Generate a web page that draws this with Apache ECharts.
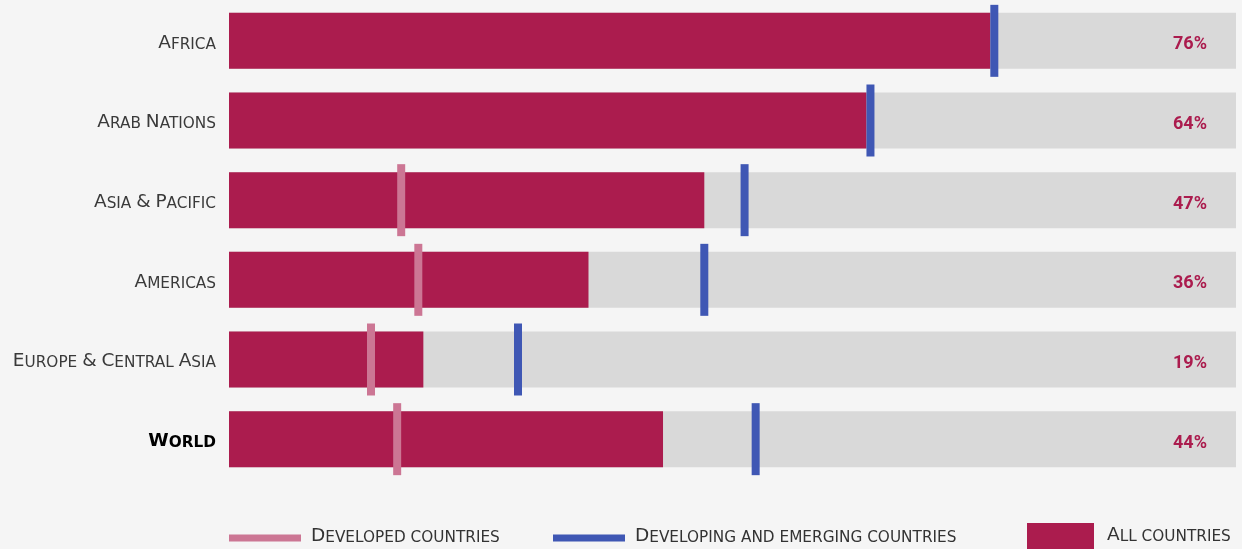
<!DOCTYPE html>
<html>
<head>
<meta charset="utf-8">
<script src="https://cdn.jsdelivr.net/npm/echarts@6/dist/echarts.min.js"></script>
<style>
html,body{margin:0;padding:0;background:#f5f5f5;}
#chart{width:1242px;height:549px;}
</style>
</head>
<body>
<div id="chart"></div>
<script>
const categories = ['Africa', 'Arab Nations', 'Asia & Pacific', 'Americas', 'Europe & Central Asia', 'World'];
const allCountries = [75.6, 63.3, 47.2, 35.7, 19.3, 43.1];
const developed = [null, null, 17.1, 18.8, 14.1, 16.7];
const developing = [76.0, 63.7, 51.2, 47.2, 28.7, 52.3];
const valueLabels = ['76%', '64%', '47%', '36%', '19%', '44%'];
const seriesNames = ['Developed countries', 'Developing and emerging countries', 'All countries'];

const CRIMSON = '#ab1c4e', PINK = '#cc7694', BLUE = '#3f57b4', GREY = '#d9d9d9';
const FONT = 'DejaVu Sans';

function smallCaps(text, big, small) {
  let out = '', cur = null, buf = '';
  const flush = () => { if (buf) out += '{' + cur + '|' + buf + '}'; buf = ''; };
  for (const ch of text) {
    const isLower = ch !== ch.toUpperCase();
    const st = (isLower || ch === ' ') ? small : big;
    if (st !== cur) { flush(); cur = st; }
    buf += ch.toUpperCase();
  }
  flush();
  return out;
}

const chart = echarts.init(document.getElementById('chart'));
const BIG = 18.5, SMALL = 15.3;
function legendText(pad) {
  return {
    rich: {
      b: { fontFamily: FONT, fontSize: BIG, color: '#333', lineHeight: 22, verticalAlign: 'bottom' },
      s: { fontFamily: FONT, fontSize: SMALL, color: '#333', lineHeight: 22, verticalAlign: 'bottom' }
    },
    padding: pad
  };
}
function legendFmt(name) { return smallCaps(name, 'b', 's'); }
chart.setOption({
  backgroundColor: '#f5f5f5',
  animation: false,
  grid: { left: 229, right: 6, top: 1, bottom: 70, containLabel: false },
  xAxis: { type: 'value', min: 0, max: 100, show: false },
  yAxis: [
    {
      type: 'category', data: categories, inverse: true, z: 10,
      axisLine: { show: false }, axisTick: { show: false },
      axisLabel: {
        margin: 13, padding: [1, 0, 0, 0],
        formatter: (v) => v === 'World' ? smallCaps(v, 'bw', 'sw') : smallCaps(v, 'b', 's'),
        rich: {
          b: { fontFamily: FONT, fontSize: BIG, color: '#3a3a3a', lineHeight: 22, verticalAlign: 'bottom' },
          s: { fontFamily: FONT, fontSize: SMALL, color: '#3a3a3a', lineHeight: 22, verticalAlign: 'bottom' },
          bw: { fontFamily: FONT, fontSize: BIG, color: '#000', fontWeight: 'bold', lineHeight: 22, verticalAlign: 'bottom' },
          sw: { fontFamily: FONT, fontSize: SMALL, color: '#000', fontWeight: 'bold', lineHeight: 22, verticalAlign: 'bottom' }
        }
      }
    },
    {
      type: 'category', data: valueLabels, inverse: true, position: 'right', z: 10,
      axisLine: { show: false }, axisTick: { show: false },
      axisLabel: {
        inside: true, margin: 29,
        formatter: (v) => '{v|' + v + '}',
        rich: { v: { color: CRIMSON, fontFamily: 'Roboto', fontSize: 18, fontWeight: 'bold', padding: [8, 0, 0, 0] } }
      }
    }
  ],
  legend: [
    { data: [seriesNames[0]], left: 229, top: 527, padding: 0, itemWidth: 72, itemHeight: 7, icon: 'rect', selectedMode: false, formatter: legendFmt, textStyle: legendText([0, 0, 6, 5]) },
    { data: [seriesNames[1]], left: 553, top: 527, padding: 0, itemWidth: 72, itemHeight: 7, icon: 'rect', selectedMode: false, formatter: legendFmt, textStyle: legendText([0, 0, 6, 5]) },
    { data: [seriesNames[2]], left: 1027, top: 523, padding: 0, itemWidth: 67, itemHeight: 26, icon: 'rect', selectedMode: false, formatter: legendFmt, textStyle: legendText([0, 0, 4, 8]) }
  ],
  series: [
    {
      name: seriesNames[2], type: 'bar', data: allCountries, barWidth: 56,
      itemStyle: { color: CRIMSON },
      showBackground: true, backgroundStyle: { color: GREY },
      z: 1
    },
    {
      name: seriesNames[0], type: 'scatter', data: developed, symbol: 'rect', symbolSize: [8, 72],
      itemStyle: { color: PINK, opacity: 1 }, z: 3
    },
    {
      name: seriesNames[1], type: 'scatter', data: developing, symbol: 'rect', symbolSize: [8, 72],
      itemStyle: { color: BLUE, opacity: 1 }, z: 3
    }
  ]
});
</script>
</body>
</html>
